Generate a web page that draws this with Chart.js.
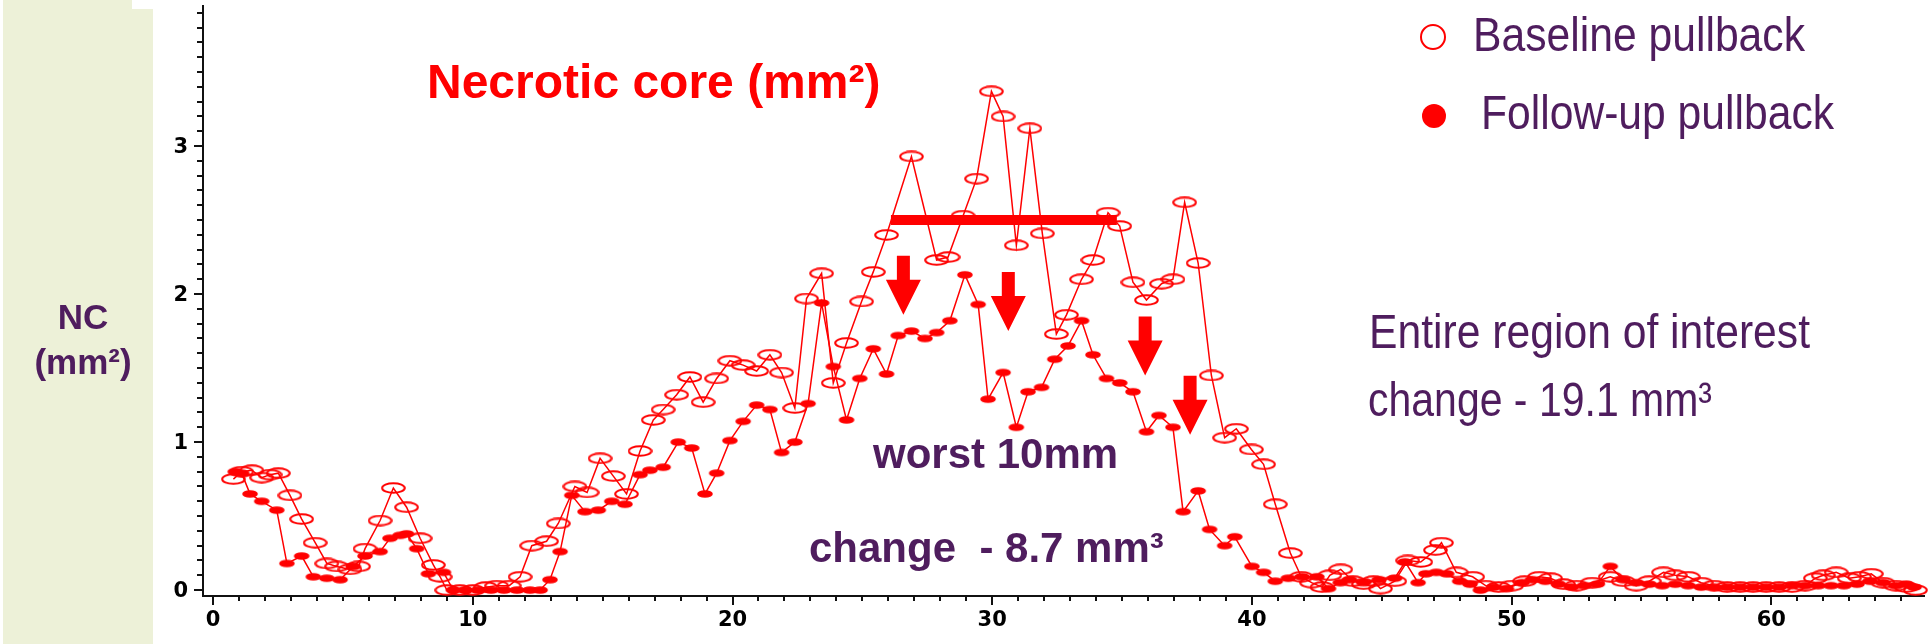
<!DOCTYPE html>
<html>
<head>
<meta charset="utf-8">
<script src="https://cdn.jsdelivr.net/npm/chart.js@4.4.1/dist/chart.umd.min.js"></script>
<style>
  html, body { margin: 0; padding: 0; background: #fff; }
  #wrap { width: 1930px; height: 644px; }
</style>
</head>
<body>
<div id="wrap"><canvas id="ncChart" width="1930" height="644"></canvas></div>
<script>
// NC area (mm2) along the pullback
const baselineX = [0.78, 1.1, 1.49, 1.87, 2.19, 2.51, 2.96, 3.41, 3.93, 4.38,
  4.76, 5.27, 5.6, 5.85, 6.43, 6.94, 7.45, 7.97, 8.48, 8.74,
  9.0, 9.5, 10.0, 10.5, 10.92, 11.4, 11.82, 12.27, 12.84, 13.29,
  13.93, 14.4, 14.9, 15.41, 15.92, 16.44, 16.95, 17.33, 17.85, 18.36,
  18.87, 19.39, 19.9, 20.41, 20.93, 21.44, 21.89, 22.4, 22.85, 23.43,
  23.88, 24.39, 24.97, 25.42, 25.93, 26.89, 27.86, 28.3, 28.88, 29.4,
  29.97, 30.42, 30.93, 31.45, 31.93, 32.47, 32.86, 33.44, 33.88, 34.46,
  34.91, 35.42, 35.94, 36.52, 36.96, 37.41, 37.93, 38.44, 38.95, 39.4,
  39.98, 40.45, 40.9, 41.48, 41.9, 42.3, 42.7, 43.0, 43.42, 43.9,
  44.3, 44.68, 44.95, 45.5, 46.0, 46.5, 47.07, 47.3, 47.87, 48.5,
  49.0, 49.5, 50.0, 50.5, 51.07, 51.5, 52.0, 52.5, 53.1, 53.8,
  54.3, 54.8, 55.3, 55.85, 56.3, 56.8, 57.3, 57.8, 58.3, 58.8,
  59.3, 59.8, 60.3, 60.8, 61.3, 61.7, 62.0, 62.5, 63.0, 63.4,
  63.85, 64.3, 64.8, 65.2, 65.55];
const baselineY = [0.75, 0.80, 0.81, 0.76, 0.78, 0.79, 0.64, 0.48, 0.32, 0.18,
  0.16, 0.14, 0.16, 0.28, 0.47, 0.69, 0.56, 0.35, 0.17, 0.09,
  0.0, 0.0, 0.0, 0.02, 0.03, 0.03, 0.09, 0.30, 0.33, 0.45,
  0.70, 0.66, 0.89, 0.77, 0.65, 0.94, 1.15, 1.22, 1.32, 1.44,
  1.27, 1.43, 1.55, 1.52, 1.48, 1.59, 1.47, 1.23, 1.97, 2.14,
  1.40, 1.67, 1.95, 2.15, 2.40, 2.93, 2.23, 2.25, 2.53, 2.78,
  3.37, 3.20, 2.33, 3.12, 2.41, 1.73, 1.86, 2.10, 2.23, 2.55,
  2.46, 2.08, 1.96, 2.07, 2.10, 2.62, 2.21, 1.45, 1.03, 1.09,
  0.95, 0.85, 0.58, 0.25, 0.09, 0.05, 0.02, 0.10, 0.14, 0.06,
  0.04, 0.06, 0.01, 0.06, 0.20, 0.19, 0.27, 0.32, 0.12, 0.09,
  0.03, 0.02, 0.03, 0.06, 0.09, 0.08, 0.04, 0.03, 0.05, 0.09,
  0.06, 0.03, 0.06, 0.12, 0.10, 0.09, 0.05, 0.03, 0.02, 0.02,
  0.02, 0.02, 0.02, 0.02, 0.03, 0.08, 0.10, 0.12, 0.08, 0.09,
  0.11, 0.05, 0.03, 0.02, 0.0];

const followX = [0.85, 1.1, 1.42, 1.87, 2.45, 2.84, 3.41, 3.86, 4.38, 4.89,
  5.40, 5.85, 6.43, 6.81, 7.2, 7.45, 7.84, 8.29, 8.87, 9.25,
  9.7, 10.2, 10.7, 11.2, 11.7, 12.2, 12.59, 12.97, 13.36, 13.81,
  14.32, 14.83, 15.35, 15.86, 16.44, 16.82, 17.33, 17.91, 18.43, 18.94,
  19.39, 19.9, 20.41, 20.93, 21.44, 21.89, 22.4, 22.91, 23.43, 23.88,
  24.39, 24.9, 25.42, 25.93, 26.38, 26.89, 27.41, 27.86, 28.37, 28.95,
  29.46, 29.84, 30.42, 30.93, 31.38, 31.9, 32.41, 32.92, 33.44, 33.88,
  34.4, 34.91, 35.42, 35.94, 36.42, 36.96, 37.35, 37.93, 38.37, 38.95,
  39.34, 40.0, 40.45, 40.9, 41.4, 41.93, 42.5, 42.95, 43.4, 43.76,
  44.3, 44.9, 45.5, 45.9, 46.4, 46.7, 47.1, 47.5, 48.0, 48.4,
  48.8, 49.3, 49.8, 50.4, 50.8, 51.3, 51.8, 52.3, 52.8, 53.3,
  53.8, 54.3, 54.8, 55.3, 55.8, 56.3, 56.8, 57.3, 57.8, 58.3,
  58.8, 59.3, 59.8, 60.3, 60.8, 61.3, 61.8, 62.3, 62.8, 63.3,
  63.8, 64.3, 64.8, 65.2, 65.5];
const followY = [0.80, 0.79, 0.65, 0.60, 0.54, 0.18, 0.23, 0.09, 0.08, 0.07,
  0.16, 0.23, 0.26, 0.35, 0.37, 0.38, 0.28, 0.11, 0.12, 0.0,
  0.0, 0.0, 0.0, 0.0, 0.0, 0.0, 0.0, 0.07, 0.26, 0.64,
  0.53, 0.54, 0.60, 0.58, 0.78, 0.81, 0.83, 1.00, 0.96, 0.65,
  0.79, 1.01, 1.14, 1.25, 1.22, 0.93, 1.00, 1.26, 1.94, 1.51,
  1.15, 1.43, 1.63, 1.46, 1.72, 1.75, 1.70, 1.74, 1.82, 2.13,
  1.93, 1.29, 1.47, 1.10, 1.34, 1.37, 1.56, 1.65, 1.82, 1.59,
  1.43, 1.40, 1.34, 1.07, 1.18, 1.10, 0.53, 0.67, 0.41, 0.30,
  0.36, 0.16, 0.12, 0.06, 0.08, 0.09, 0.09, 0.01, 0.05, 0.07,
  0.05, 0.07, 0.08, 0.19, 0.05, 0.11, 0.12, 0.11, 0.06, 0.04,
  0.0, 0.02, 0.01, 0.05, 0.07, 0.06, 0.04, 0.02, 0.03, 0.04,
  0.16, 0.07, 0.05, 0.04, 0.03, 0.04, 0.03, 0.02, 0.02, 0.02,
  0.02, 0.02, 0.02, 0.02, 0.03, 0.03, 0.03, 0.03, 0.03, 0.04,
  0.06, 0.05, 0.03, 0.04, 0.02];

// worst 10 mm segment
const worstX = [26.1, 34.8];
const worstY = [2.5, 2.5];

// down arrows (x, tip value)
const arrowX = [26.58, 30.62, 35.89, 37.62];
const arrowTipY = [1.86, 1.75, 1.45, 1.05];

const xTicks = [0, 10, 20, 30, 40, 50, 60];
const yTicks = [0, 1, 2, 3];
const seriesNames = ['Baseline pullback', 'Follow-up pullback'];

const RED = '#ff0000';
const PURPLE = '#4f1d5e';

const makeMarker = (w, h, filled) => {
    const c = document.createElement('canvas');
    c.width = w;
    c.height = h;
    const g = c.getContext('2d');
    g.beginPath();
    g.ellipse(w / 2, h / 2, w / 2 - 1.2, h / 2 - 1.2, 0, 0, Math.PI * 2);
    if (filled) {
        g.fillStyle = RED;
        g.fill();
    } else {
        g.strokeStyle = RED;
        g.lineWidth = 2;
        g.stroke();
    }
    return c;
};

const toPoints = (xs, ys) => xs.map((v, i) => ({x: v, y: ys[i]}));

// condensed text: squeeze the normal face to the width seen in the figure
const fitText = (c, text, x, y, width) => {
    const w = c.measureText(text).width;
    c.save();
    c.translate(x, y);
    c.scale(width / w, 1);
    c.fillText(text, 0, 0);
    c.restore();
};

const panelPlugin = {
    id: 'panel',
    beforeDraw(chart) {
        const c = chart.ctx;
        c.save();
        c.fillStyle = '#edf1d8';
        c.fillRect(3, 0, 129, 644);
        c.fillRect(132, 9, 21, 635);
        c.restore();
    }
};

// SAS style axes: minor ticks every unit / 0.1, labels on the majors
const tickPlugin = {
    id: 'axisTicks',
    afterDraw(chart) {
        const {ctx, chartArea, scales} = chart;
        ctx.save();
        ctx.strokeStyle = '#111';
        ctx.lineWidth = 2;
        ctx.beginPath();
        for (let i = 0; i <= 65; i++) {
            const px = Math.round(scales.x.getPixelForValue(i));
            const len = i % 10 === 0 ? 9 : 5;
            ctx.moveTo(px, chartArea.bottom);
            ctx.lineTo(px, chartArea.bottom + len);
        }
        for (let i = 0; i <= 39; i++) {
            const py = Math.round(scales.y.getPixelForValue(i / 10));
            const len = i % 10 === 0 ? 9 : 6;
            ctx.moveTo(chartArea.left, py);
            ctx.lineTo(chartArea.left - len, py);
        }
        ctx.stroke();

        ctx.fillStyle = '#000';
        ctx.font = 'bold 21px "DejaVu Sans", sans-serif';
        ctx.textBaseline = 'middle';
        ctx.textAlign = 'center';
        xTicks.forEach(v => {
            ctx.fillText(String(v), scales.x.getPixelForValue(v), chartArea.bottom + 25);
        });
        ctx.textAlign = 'right';
        yTicks.forEach(v => {
            ctx.fillText(String(v), chartArea.left - 15, scales.y.getPixelForValue(v) + 1);
        });
        ctx.restore();
    }
};

const notesPlugin = {
    id: 'notes',
    afterDraw(chart) {
        const {ctx, scales} = chart;
        ctx.save();

        // arrows
        ctx.fillStyle = RED;
        arrowX.forEach((v, i) => {
            const px = scales.x.getPixelForValue(v);
            const tip = scales.y.getPixelForValue(arrowTipY[i]);
            ctx.beginPath();
            ctx.moveTo(px - 6.5, tip - 59);
            ctx.lineTo(px + 6.5, tip - 59);
            ctx.lineTo(px + 6.5, tip - 35);
            ctx.lineTo(px + 17.5, tip - 35);
            ctx.lineTo(px, tip);
            ctx.lineTo(px - 17.5, tip - 35);
            ctx.lineTo(px - 6.5, tip - 35);
            ctx.closePath();
            ctx.fill();
        });

        ctx.textAlign = 'left';
        ctx.textBaseline = 'alphabetic';

        ctx.fillStyle = RED;
        ctx.font = 'bold 48px "Liberation Sans", Arial, sans-serif';
        ctx.fillText('Necrotic core (mm\u00b2)', 427, 98);

        ctx.fillStyle = PURPLE;
        ctx.textAlign = 'center';
        ctx.font = 'bold 35px "Liberation Sans", Arial, sans-serif';
        ctx.fillText('NC', 83, 329);
        ctx.fillText('(mm\u00b2)', 83, 374);

        ctx.textAlign = 'left';
        ctx.font = 'bold 42px "Liberation Sans", Arial, sans-serif';
        ctx.fillText('worst 10mm', 873, 468);
        ctx.fillText('change  - 8.7 mm\u00b3', 809, 562);

        // legend
        ctx.strokeStyle = RED;
        ctx.lineWidth = 2;
        ctx.beginPath();
        ctx.arc(1433, 37, 12, 0, Math.PI * 2);
        ctx.stroke();
        ctx.fillStyle = RED;
        ctx.beginPath();
        ctx.arc(1434, 116, 12, 0, Math.PI * 2);
        ctx.fill();

        ctx.fillStyle = PURPLE;
        ctx.font = '48px "Liberation Sans", Arial, sans-serif';
        fitText(ctx, seriesNames[0], 1473, 51, 332);
        fitText(ctx, seriesNames[1], 1481, 129, 353);
        fitText(ctx, 'Entire region of interest', 1369, 348, 441);
        fitText(ctx, 'change - 19.1 mm\u00b3', 1368, 416, 344);
        ctx.restore();
    }
};

window.onload = () => {
    const canvas = document.getElementById('ncChart');
    const ctx = canvas.getContext('2d');

    new Chart(ctx, {
        type: 'scatter',
        data: {
            datasets: [
                {
                    label: 'worst',
                    data: toPoints(worstX, worstY),
                    showLine: true,
                    borderColor: RED,
                    borderWidth: 10,
                    borderCapStyle: 'butt',
                    pointRadius: 0,
                    order: 0,
                    clip: false
                },
                {
                    label: seriesNames[1],
                    data: toPoints(followX, followY),
                    showLine: true,
                    borderColor: RED,
                    borderWidth: 1.5,
                    pointStyle: makeMarker(18, 10, true),
                    order: 1,
                    clip: false
                },
                {
                    label: seriesNames[0],
                    data: toPoints(baselineX, baselineY),
                    showLine: true,
                    borderColor: RED,
                    borderWidth: 1.5,
                    pointStyle: makeMarker(25, 12, false),
                    order: 2,
                    clip: false
                }
            ]
        },
        options: {
            responsive: false,
            animation: false,
            devicePixelRatio: 1,
            layout: {
                padding: {left: 0, right: 5, top: 0, bottom: 0}
            },
            elements: {
                line: {tension: 0}
            },
            plugins: {
                legend: {display: false},
                tooltip: {enabled: false}
            },
            scales: {
                x: {
                    type: 'linear',
                    min: -0.39,
                    max: 65.9,
                    grid: {display: false},
                    border: {display: true, color: '#111', width: 2},
                    ticks: {display: false},
                    afterBuildTicks: (s) => {
                        s.ticks = xTicks.map(v => ({value: v}));
                    },
                    afterFit: (s) => {
                        s.height = 48;
                        s.paddingLeft = 0;
                        s.paddingRight = 0;
                    }
                },
                y: {
                    type: 'linear',
                    min: -0.04,
                    max: 3.95,
                    grid: {display: false},
                    border: {display: true, color: '#111', width: 2},
                    ticks: {display: false},
                    afterBuildTicks: (s) => {
                        s.ticks = yTicks.map(v => ({value: v}));
                    },
                    afterFit: (s) => {
                        s.width = 203;
                        s.paddingTop = 0;
                        s.paddingBottom = 0;
                    }
                }
            }
        },
        plugins: [panelPlugin, tickPlugin, notesPlugin]
    });
};
</script>
</body>
</html>
